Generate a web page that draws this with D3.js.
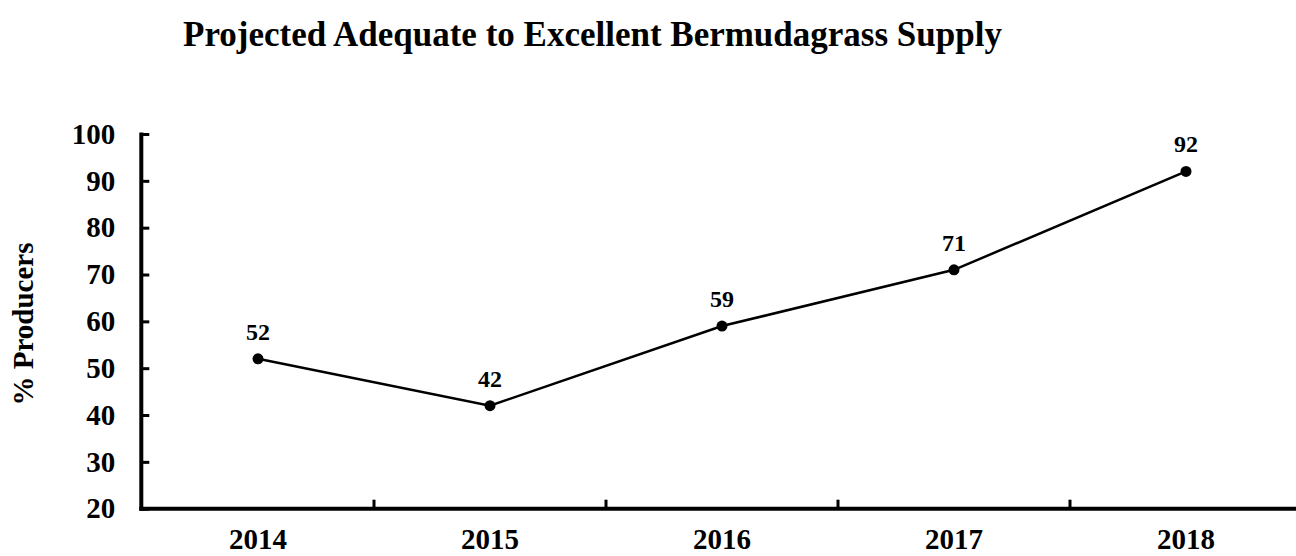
<!DOCTYPE html>
<html>
<head>
<meta charset="utf-8">
<script src="https://cdn.jsdelivr.net/npm/d3@7"></script>
<style>
  body { margin: 0; background: #fff; }
  svg { display: block; }
  text { font-family: "Times New Roman", "Liberation Serif", serif; font-weight: bold; fill: #000; }
</style>
</head>
<body>
<svg id="chart" width="1296" height="556"></svg>
<script>
var years = ["2014", "2015", "2016", "2017", "2018"];
var producers = [52, 42, 59, 71, 92];
var yTicks = [20, 30, 40, 50, 60, 70, 80, 90, 100];
var chartTitle = "Projected Adequate to Excellent Bermudagrass Supply";
var yTitle = "% Producers";

var svg = d3.select("#chart");

// plot area: band step 232, y axis at 142
var x = d3.scaleBand().domain(years).range([142, 142 + 232 * years.length]).padding(0);
var y = d3.scaleLinear().domain([20, 100]).range([508.7, 134]);

svg.append("text")
    .attr("x", 183)
    .attr("y", 46)
    .style("font-size", "35px")
    .text(chartTitle);

svg.append("text")
    .attr("transform", "translate(33,324) rotate(-90)")
    .attr("text-anchor", "middle")
    .style("font-size", "29px")
    .text(yTitle);

// y axis
var yAxis = svg.append("g")
    .attr("transform", "translate(141.3,0)")
    .call(d3.axisLeft(y).tickValues(yTicks).tickSize(-8).tickSizeOuter(0).tickPadding(26));
yAxis.select(".domain").attr("stroke", "#000").attr("stroke-width", 4)
    .attr("d", "M0," + (y(100) - 1.5) + "V" + (y(20) + 2));
yAxis.selectAll(".tick line").attr("stroke", "#000").attr("stroke-width", 3);
yAxis.selectAll(".tick text").style("font-size", "29px").attr("font-family", null);

// x axis
var xAxis = svg.append("g")
    .attr("transform", "translate(0," + y(20) + ")")
    .call(d3.axisBottom(x).tickSize(0).tickPadding(20));
xAxis.select(".domain").attr("stroke", "#000").attr("stroke-width", 4)
    .attr("d", "M139.3,0H1296");
xAxis.selectAll(".tick text").style("font-size", "29px").attr("font-family", null);

// category boundary ticks
svg.append("g").selectAll("line")
    .data(years.slice(1))
    .join("line")
    .attr("x1", function (d) { return x(d); })
    .attr("x2", function (d) { return x(d); })
    .attr("y1", y(20) - 9)
    .attr("y2", y(20))
    .attr("stroke", "#000")
    .attr("stroke-width", 3);

var cx = function (d, i) { return x(years[i]) + x.bandwidth() / 2; };

var line = d3.line()
    .x(function (d, i) { return cx(d, i); })
    .y(function (d) { return y(d); });

svg.append("path")
    .datum(producers)
    .attr("fill", "none")
    .attr("stroke", "#000")
    .attr("stroke-width", 2.5)
    .attr("d", line);

svg.append("g").selectAll("circle")
    .data(producers)
    .join("circle")
    .attr("cx", cx)
    .attr("cy", function (d) { return y(d); })
    .attr("r", 5.5)
    .attr("fill", "#000");

svg.append("g").selectAll("text")
    .data(producers)
    .join("text")
    .attr("x", cx)
    .attr("y", function (d) { return y(d) - 19; })
    .attr("text-anchor", "middle")
    .style("font-size", "24px")
    .text(function (d) { return d; });
</script>
</body>
</html>
